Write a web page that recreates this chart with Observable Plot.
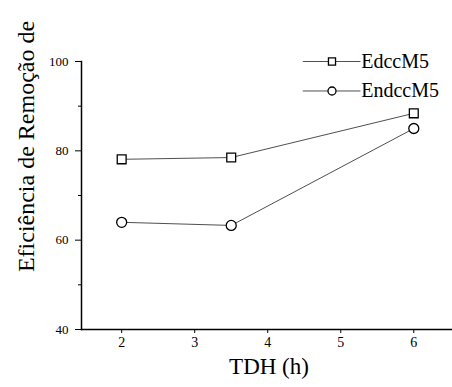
<!DOCTYPE html>
<html><head><meta charset="utf-8">
<script src="https://cdn.jsdelivr.net/npm/d3@7"></script>
<script src="https://cdn.jsdelivr.net/npm/@observablehq/plot@0.6"></script>
<style>body{margin:0;background:#fff} svg, svg text{font-family:"Liberation Serif","DejaVu Serif","Liberation Sans",sans-serif !important}</style>
</head><body><div id="chart"></div>
<script>
const tdh = [2, 3.5, 6];
const edccM5 = [78.1, 78.5, 88.4];
const endccM5 = [64.0, 63.3, 85.0];
const seriesNames = ["EdccM5", "EndccM5"];
const seriesSymbols = ["square", "circle"];
const xTicks = [2, 3, 4, 5, 6];
const yTicks = [40, 60, 80, 100];
const yMinor = [50, 70, 90];
const yLabel = "Eficiência de Remoção de";
const xLabel = "TDH (h)";

const rows = [];
[edccM5, endccM5].forEach((vals, i) => vals.forEach((v, j) => rows.push({series: seriesNames[i], sym: seriesSymbols[i], x: tdh[j], y: v})));
const legend = seriesNames.map((s, i) => ({series: s, sym: seriesSymbols[i], y: [100, 93.4][i], x1: 4.48, xm: 4.88, x2: 5.27, xt: 5.28}));
const font = '"Liberation Serif", "DejaVu Serif", "Liberation Sans", sans-serif';

const chart = Plot.plot({
  width: 452, height: 387,
  marginLeft: 81, marginRight: 0, marginTop: 61, marginBottom: 58,
  style: {fontFamily: font, background: "white", color: "black"},
  x: {type: "linear", domain: [1.45, 6.53]},
  y: {type: "linear", domain: [40, 100]},
  marks: [
    Plot.axisY(yTicks, {tickSize: 6, tickPadding: 7, fontSize: 13, label: null, strokeWidth: 1}),
    Plot.axisY(yMinor, {tickSize: 3, text: null, label: null, strokeWidth: 1}),
    Plot.axisX(xTicks, {tickSize: 4, tickPadding: 4, fontSize: 14, label: null}),
    Plot.frame({anchor: "left", strokeWidth: 1.5}),
    Plot.frame({anchor: "bottom", strokeWidth: 1.5}),
    Plot.line(rows, {x: "x", y: "y", z: "series", stroke: "#222", strokeWidth: 0.8}),
    Plot.dot(rows, {x: "x", y: "y", symbol: "sym", r: 5, fill: "white", stroke: "black", strokeWidth: 1.3}),
    // legend
    Plot.link(legend, {x1: "x1", x2: "x2", y1: "y", y2: "y", stroke: "#222", strokeWidth: 0.8}),
    Plot.dot(legend, {x: "xm", y: "y", symbol: "sym", r: 4, fill: "white", stroke: "black", strokeWidth: 1.3}),
    Plot.text(legend, {x: "xt", y: "y", text: "series", textAnchor: "start", fontSize: 20}),
    Plot.text([yLabel], {frameAnchor: "left", textAnchor: "middle", dx: -55, dy: -49, rotate: -90, fontSize: 24, text: d => d}),
    Plot.text([xLabel], {frameAnchor: "bottom", dy: 44, dx: 2, fontSize: 23, text: d => d})
  ]
});
document.getElementById("chart").append(chart);
</script>
</body></html>
